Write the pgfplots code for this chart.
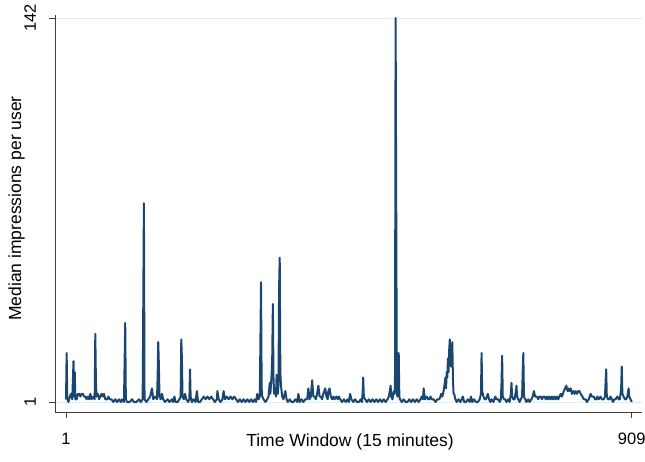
\documentclass[border=0pt]{standalone}
\usepackage{fontspec}
\setmainfont{Liberation Sans}
\usepackage{pgfplots}
\pgfplotsset{compat=1.18}
\definecolor{stnavy}{RGB}{26,71,111}
\definecolor{gridc}{RGB}{225,236,239}
\begin{document}
\begin{tikzpicture}
\begin{axis}[name=ax,
 width=587bp, height=397bp, scale only axis,
 xmin=-16.7, xmax=925.5, ymin=-2.67, ymax=143.1,
 axis x line*=bottom, axis y line*=left,
 axis line style={black!75, line width=0.8bp, -},
 xtick={1,909}, ytick={1,142},
 tick align=outside, major tick length=6bp, tick style={black!75, line width=0.8bp},
 ymajorgrids, grid style={gridc, line width=0.8bp},
 /pgf/number format/assume math mode=true,
 ticklabel style={font=\fontsize{16.5bp}{19bp}\selectfont},
 yticklabel style={rotate=90, anchor=south, inner sep=0pt},
 yticklabel shift=13bp,
 xticklabel style={anchor=north, inner sep=0pt},
 xticklabel shift=15bp,
 label style={font=\fontsize{17.5bp}{20bp}\selectfont, inner sep=0pt},
 xlabel={Time Window (15 minutes)},
 ylabel={Median impressions per user},
 xlabel style={at={(axis description cs:0.5026,-0.0554)}, anchor=north},
 ylabel style={at={(axis description cs:-0.0511,0.5126)}, anchor=south},
 clip=false,
]
\addplot[stnavy, line width=2bp, line join=round] coordinates {
(1,2)(2,19)(3,2)(5,1)(7,3)(9,4)(11,2)(13,16)(14,3)(15,12)(16,2)(18,2)(20,4)(22,4)(24,3)(26,4)(28,4)(30,3)(32,3)(34,2)(36,3)(38,2)(40,4)(42,2)(45,3)(47,2)(48,26)(49,8)(50,3)(52,4)(54,2)(56,3)(58,4)(60,3)(62,4)(64,2)(67,2)(69,3)(71,2)(74,2)(77,1)(80,2)(83,1)(86,2)(89,1)(91,2)(94,1)(95,15)(96,30)(97,2)(99,1)(103,1)(107,2)(110,1)(114,1)(118,2)(121,1)(124,2)(125,37)(126,74)(127,2)(130,1)(133,2)(136,3)(139,6)(141,2)(144,3)(147,2)(148,10)(149,23)(150,15)(151,3)(153,2)(155,4)(157,2)(160,1)(164,2)(167,1)(171,2)(173,1)(175,3)(177,1)(180,1)(183,2)(185,3)(186,24)(187,17)(188,3)(190,2)(192,4)(194,2)(197,1)(199,2)(200,13)(201,3)(203,1)(206,2)(209,1)(211,5)(213,1)(216,1)(219,2)(222,3)(225,2)(228,3)(231,2)(234,3)(237,2)(240,1)(243,2)(244,5)(246,2)(249,1)(252,2)(254,5)(256,2)(259,3)(262,2)(265,3)(268,2)(271,3)(274,2)(277,1)(280,2)(283,1)(286,2)(289,1)(292,2)(295,1)(298,2)(301,1)(304,2)(306,1)(308,4)(310,2)(312,3)(313,23)(314,45)(315,6)(316,3)(318,2)(321,1)(324,2)(326,3)(328,8)(329,4)(331,11)(332,18)(333,37)(334,10)(335,4)(337,6)(338,3)(339,11)(341,4)(342,7)(343,43)(344,54)(345,12)(346,7)(348,3)(350,2)(353,5)(355,2)(357,1)(360,2)(363,1)(366,1)(369,2)(372,1)(374,4)(376,1)(379,2)(382,1)(385,2)(388,2)(390,6)(392,2)(394,3)(396,9)(398,3)(400,3)(402,2)(404,4)(406,7)(408,3)(410,3)(412,2)(414,4)(417,6)(419,3)(421,2)(422,5)(424,6)(426,3)(428,2)(430,3)(432,2)(435,3)(437,2)(439,3)(441,2)(444,1)(447,2)(450,1)(453,2)(455,1)(457,4)(459,2)(462,1)(465,2)(468,1)(471,1)(474,2)(476,1)(477,4)(478,10)(479,3)(481,2)(484,1)(487,2)(490,1)(493,2)(496,1)(499,2)(502,1)(505,2)(508,1)(511,2)(514,1)(517,2)(519,3)(520,4)(522,7)(523,3)(525,2)(527,5)(528,4)(529,6)(530,142)(531,73)(532,4)(533,3)(534,9)(535,19)(536,3)(537,2)(540,1)(543,2)(546,1)(549,1)(552,2)(555,1)(558,2)(561,1)(564,2)(567,1)(570,2)(572,3)(574,2)(575,6)(577,2)(580,3)(582,2)(584,2)(586,3)(588,2)(591,2)(594,1)(597,2)(600,2)(602,3)(603,4)(605,3)(607,5)(609,8)(610,10)(611,6)(612,12)(613,10)(614,17)(615,12)(616,20)(617,24)(618,15)(619,14)(620,16)(621,23)(622,10)(623,4)(624,4)(626,2)(628,1)(631,2)(634,1)(636,2)(638,3)(640,1)(643,1)(646,2)(649,1)(651,3)(653,1)(656,2)(659,1)(662,1)(665,2)(667,4)(668,19)(669,5)(671,3)(673,2)(675,2)(678,4)(680,2)(682,1)(684,2)(687,1)(690,3)(692,2)(695,2)(697,1)(699,2)(700,8)(701,18)(702,3)(704,2)(706,2)(708,1)(711,2)(713,1)(715,4)(716,8)(717,3)(719,2)(721,2)(723,5)(724,7)(725,3)(727,2)(729,1)(731,2)(733,3)(734,12)(735,19)(736,3)(738,2)(740,1)(743,2)(745,1)(748,2)(750,3)(752,5)(754,3)(757,3)(759,2)(761,3)(763,3)(765,2)(767,3)(769,3)(771,2)(773,3)(775,2)(777,3)(779,2)(781,3)(783,2)(785,3)(787,2)(789,3)(791,2)(793,3)(795,4)(797,3)(800,5)(802,6)(804,7)(806,5)(807,6)(809,5)(811,6)(813,4)(815,5)(817,4)(819,5)(821,4)(823,5)(825,5)(827,4)(830,3)(832,2)(835,2)(837,1)(840,2)(843,4)(845,3)(848,3)(850,2)(852,2)(854,3)(856,2)(859,3)(861,2)(864,2)(866,3)(867,8)(868,13)(869,3)(871,2)(873,2)(875,3)(877,2)(879,1)(881,2)(883,2)(886,3)(888,2)(890,2)(892,6)(893,14)(894,4)(896,3)(898,2)(900,2)(902,3)(904,6)(905,3)(907,2)(909,1)
};
\end{axis}
\pgfresetboundingbox
\path[use as bounding box] ([xshift=-55bp,yshift=-50bp]ax.south west) rectangle ([xshift=3bp,yshift=15bp]ax.north east);
\end{tikzpicture}
\end{document}
